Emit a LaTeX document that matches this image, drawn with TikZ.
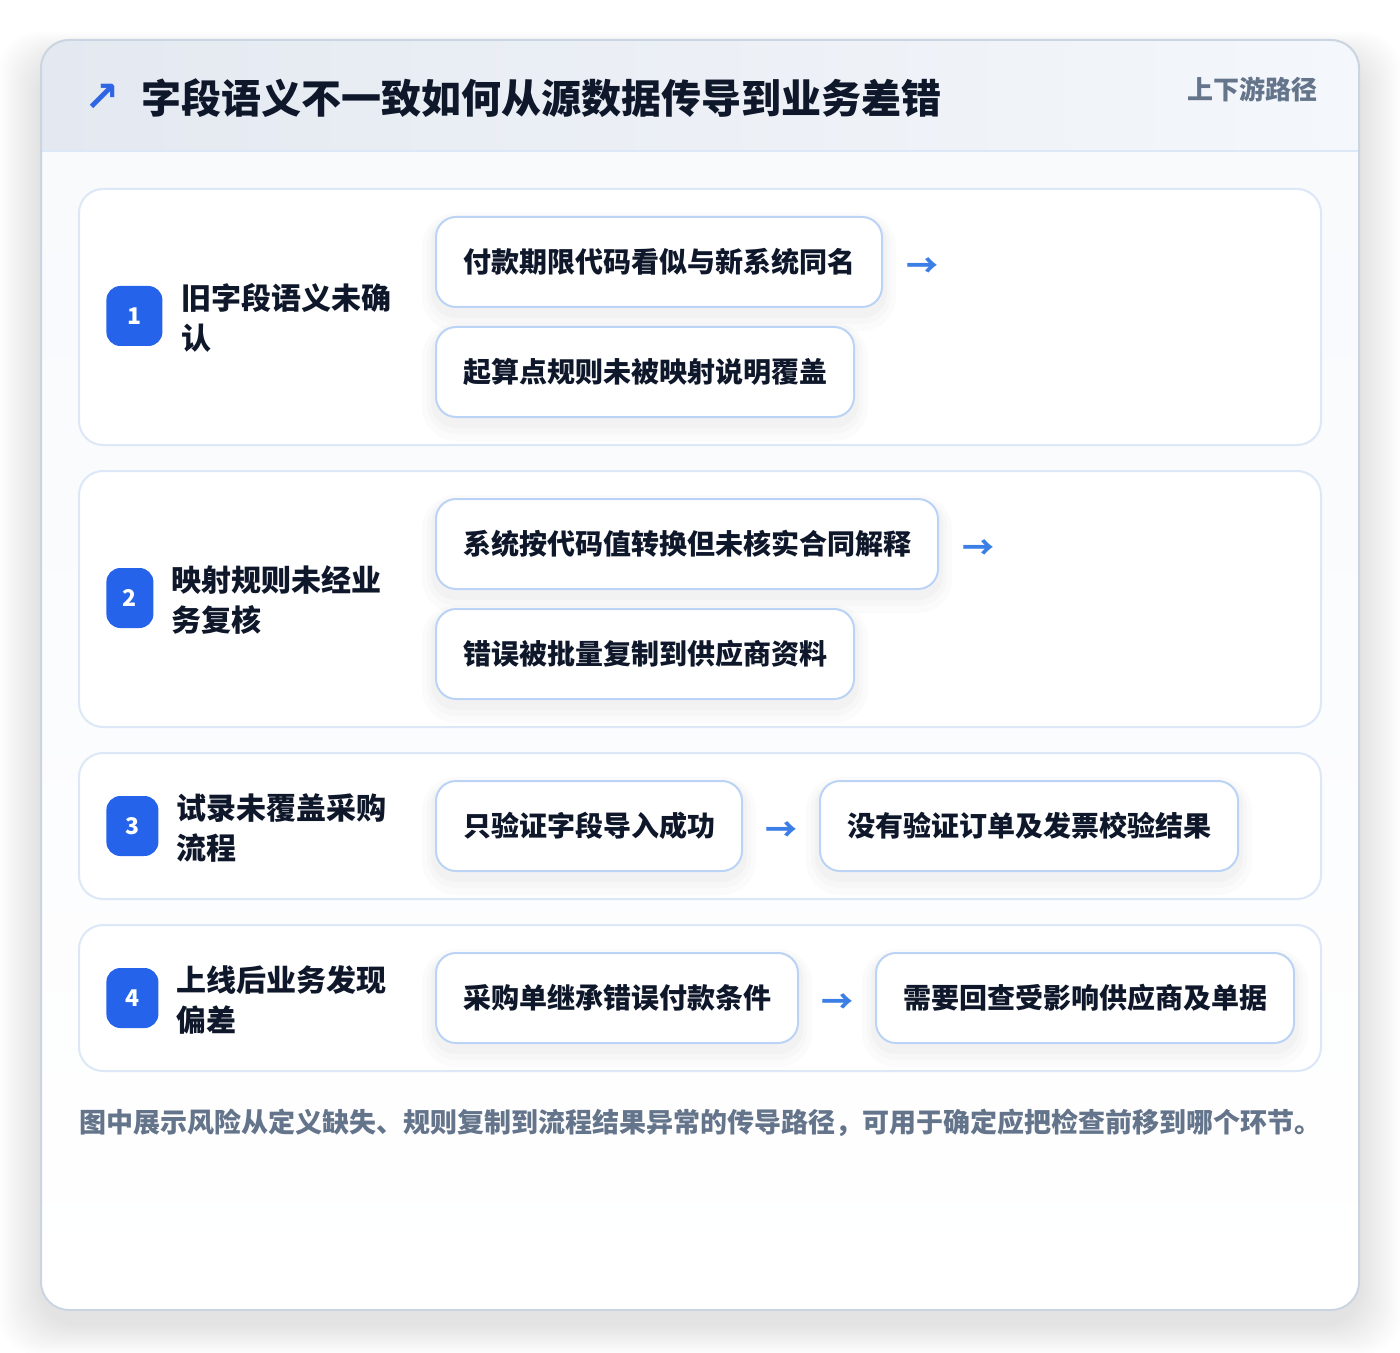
\documentclass[tikz,border=0pt]{standalone}
\usepackage{fontspec}
\setmainfont{Noto Sans CJK SC}
\newfontfamily\symfont{DejaVu Sans}
\definecolor{ink}{HTML}{0F172A}
\definecolor{muted}{HTML}{64748B}
\definecolor{brand}{HTML}{2563EB}
\definecolor{iconblue}{HTML}{2F66E3}
\definecolor{arrowblue}{HTML}{3B7FE6}
\definecolor{cardline}{HTML}{CBD5E1}
\definecolor{panelline}{HTML}{DCE7F7}
\definecolor{boxline}{HTML}{BBD3F4}
\definecolor{headL}{HTML}{E4E9F1}
\definecolor{headR}{HTML}{F4F7FB}
\definecolor{bodytop}{HTML}{F7F9FC}
\definecolor{shadowc}{HTML}{1E293B}
\begin{document}
\begin{tikzpicture}[x=0.5pt,y=-0.5pt,
  panel/.style={draw=panelline, line width=1pt, fill=white, rounded corners=12pt, minimum width=621pt, inner sep=0pt},
  softshadow/.style={
    preaction={draw=shadowc, draw opacity=0.014, line width=14pt, transform canvas={yshift=-5pt}},
    preaction={draw=shadowc, draw opacity=0.016, line width=9pt, transform canvas={yshift=-4pt}},
    preaction={draw=shadowc, draw opacity=0.018, line width=5pt, transform canvas={yshift=-3pt}}},
  stepbox/.style={softshadow, draw=boxline, line width=1pt, fill=white, rounded corners=10pt, minimum height=45pt, inner xsep=13.5pt, inner ysep=0pt, font=\fontsize{14}{16}\bfseries, text=ink, anchor=west},
  badge/.style={fill=brand, rounded corners=7pt, minimum height=30pt, inner sep=0pt, text=white, font=\fontsize{11.5}{13}\bfseries, anchor=west},
  rowlabel/.style={anchor=west, align=left, inner sep=0pt, text=ink, font=\fontsize{15}{20}\bfseries},
  flow/.style={text=arrowblue, font=\fontsize{16}{18}\bfseries, inner sep=0pt}
]
\useasboundingbox (0,0) rectangle (1400,1352);
\fill[white] (0,0) rectangle (1400,1352);
% card shadow
\foreach \i in {1,...,14} {
  \fill[shadowc, opacity=0.006, rounded corners=20pt] ({41-\i*3},{40-\i*2+20}) rectangle ({1359+\i*3},{1310+\i*2.2+14});
}
% card
\path[top color=bodytop, bottom color=white, rounded corners=14pt] (41,40) rectangle (1359,1310);
\begin{scope}
\clip[rounded corners=14pt] (41,40) rectangle (1359,1310);
\shade[left color=headL, right color=headR] (41,40) rectangle (1359,151);
\end{scope}
\draw[panelline, line width=1pt] (41,151) -- (1359,151);
\draw[cardline, line width=1pt, rounded corners=14pt] (41,40) rectangle (1359,1310);
% header
\node[inner sep=0pt, text=iconblue] (icon) at (102,98) {\symfont\bfseries\fontsize{21}{22}\selectfont ↗};
\node[anchor=west, inner sep=0pt, text=ink, font=\fontsize{20}{24}\bfseries] (title) at (141,98) {字段语义不一致如何从源数据传导到业务差错};
\node[anchor=east, inner sep=0pt, text=muted, font=\fontsize{13}{15}\bfseries] (tag) at (1318,89) {上下游路径};
% rows
\node[panel, minimum height=128pt] (row1) at (700,317) {};
\node[panel, minimum height=128pt] (row2) at (700,599) {};
\node[panel, minimum height=73pt] (row3) at (700,826) {};
\node[panel, minimum height=73pt] (row4) at (700,998) {};
% badges
\node[badge, minimum width=28pt] (n1) at (106,316) {1};
\node[badge, minimum width=23.5pt] (n2) at (106,598) {2};
\node[badge, minimum width=26pt] (n3) at (106,826) {3};
\node[badge, minimum width=26pt] (n4) at (106,998) {4};
% labels
\node[rowlabel] (l1) at (181,318) {旧字段语义未确\\认};
\node[rowlabel] (l2) at (171,600) {映射规则未经业\\务复核};
\node[rowlabel] (l3) at (176,828) {试录未覆盖采购\\流程};
\node[rowlabel] (l4) at (176,1000) {上线后业务发现\\偏差};
% steps
\node[stepbox] (s1a) at (435,262) {付款期限代码看似与新系统同名};
\node[stepbox] (s1b) at (435,372) {起算点规则未被映射说明覆盖};
\node[flow] (f1) at ([xshift=19.5pt,yshift=-3pt]s1a.east) {→};
\node[stepbox] (s2a) at (435,544) {系统按代码值转换但未核实合同解释};
\node[stepbox] (s2b) at (435,654) {错误被批量复制到供应商资料};
\node[flow] (f2) at ([xshift=19.5pt,yshift=-3pt]s2a.east) {→};
\node[stepbox] (s3a) at (435,826) {只验证字段导入成功};
\node[stepbox] (s3b) at ([xshift=38pt]s3a.east) {没有验证订单及发票校验结果};
\node[flow] (f3) at ([xshift=19pt,yshift=-3pt]s3a.east) {→};
\node[stepbox] (s4a) at (435,998) {采购单继承错误付款条件};
\node[stepbox] (s4b) at ([xshift=38pt]s4a.east) {需要回查受影响供应商及单据};
\node[flow] (f4) at ([xshift=19pt,yshift=-3pt]s4a.east) {→};
% footer
\node[anchor=west, inner sep=0pt, text=muted, font=\fontsize{13.5}{16}\bfseries] (note) at (79,1123) {图中展示风险从定义缺失、规则复制到流程结果异常的传导路径，可用于确定应把检查前移到哪个环节。};
\end{tikzpicture}
\end{document}
